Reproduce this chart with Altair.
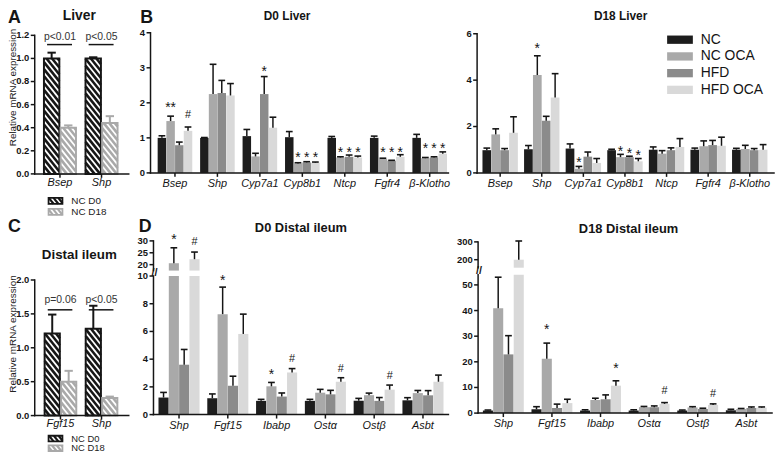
import math
import altair as alt
import pandas as pd

FONT = "Liberation Sans"
W, H = 775, 446
M = 8
INK = "#151515"


def sx(v):
    return v - M


def sy(v):
    return v - M


# ------------------------------------------------------------------ data
GROUPS = ["NC", "NC OCA", "HFD", "HFD OCA"]
GROUP_COLORS = ["#1d1d1d", "#a9a9a9", "#8b8b8b", "#d9d9d9"]

SERIES = ["NC D0", "NC D18"]
SERIES_COLORS = ["#161616", "#a9a9a9"]

A_CATS = ["Bsep", "Shp"]
A_MEAN = [[1.00, 1.00], [0.40, 0.44]]
A_ERRTOP = [[1.05, 1.01], [0.42, 0.50]]
A_PVALS = ["p<0.01", "p<0.05"]
A_BRACKET_Y = 1.12
A_PTEXT_Y = 1.185
A_YTICKS = [0, 0.2, 0.4, 0.6, 0.8, 1.0, 1.2]

C_CATS = ["Fgf15", "Shp"]
C_MEAN = [[1.21, 1.28], [0.50, 0.26]]
C_ERRTOP = [[1.49, 1.62], [0.66, 0.28]]
C_PVALS = ["p=0.06", "p<0.05"]
C_BRACKET_Y = 1.56
C_PTEXT_Y = 1.71
C_YTICKS = [0, 0.5, 1.0, 1.5, 2.0]

LIVER_CATS = ["Bsep", "Shp", "Cyp7a1", "Cyp8b1", "Ntcp", "Fgfr4", "β-Klotho"]
B0_MEAN = [
    [1.00, 1.00, 1.05, 1.02, 1.00, 1.00, 1.00],
    [1.48, 2.25, 0.47, 0.27, 0.44, 0.40, 0.42],
    [0.79, 2.28, 2.25, 0.30, 0.46, 0.35, 0.44],
    [1.20, 2.21, 1.29, 0.29, 0.44, 0.46, 0.55],
]
B0_ERRTOP = [
    [1.06, 1.01, 1.24, 1.18, 1.04, 1.05, 1.10],
    [1.62, 3.10, 0.56, 0.29, 0.46, 0.42, 0.44],
    [0.88, 2.64, 2.75, 0.32, 0.51, 0.36, 0.46],
    [1.31, 2.55, 1.59, 0.31, 0.48, 0.52, 0.60],
]
B0_MARKS = [(0, 1, "**", 1.96), (0, 3, "#", 1.67), (2, 2, "*", 3.0),
            (3, 1, "*", 0.54), (3, 2, "*", 0.54), (3, 3, "*", 0.54),
            (4, 1, "*", 0.69), (4, 2, "*", 0.69), (4, 3, "*", 0.69),
            (5, 1, "*", 0.69), (5, 2, "*", 0.69), (5, 3, "*", 0.69),
            (6, 1, "*", 0.80), (6, 2, "*", 0.80), (6, 3, "*", 0.80)]
B0_YTICKS = [0, 1, 2, 3, 4]

B18_MEAN = [
    [0.98, 1.02, 1.05, 0.98, 1.00, 1.00, 1.00],
    [1.66, 4.22, 0.18, 0.68, 0.83, 1.15, 1.03],
    [0.98, 2.25, 0.70, 0.68, 0.98, 1.20, 0.98],
    [1.73, 3.25, 0.43, 0.50, 1.12, 1.17, 1.00],
]
B18_ERRTOP = [
    [1.07, 1.18, 1.25, 1.02, 1.12, 1.07, 1.06],
    [1.90, 5.05, 0.28, 0.80, 0.96, 1.38, 1.19],
    [1.05, 2.44, 0.90, 0.72, 1.08, 1.40, 1.05],
    [2.42, 4.28, 0.62, 0.62, 1.48, 1.54, 1.22],
]
B18_MARKS = [(1, 1, "*", 5.5), (2, 1, "*", 0.6),
             (3, 1, "*", 1.05), (3, 2, "*", 0.98), (3, 3, "*", 0.88)]
B18_YTICKS = [0, 2, 4, 6]

ILEUM_CATS = ["Shp", "Fgf15", "Ibabp", "Ostα", "Ostβ", "Asbt"]
D0_MEAN = [
    [1.23, 1.18, 0.99, 0.99, 1.00, 1.03],
    [20.6, 7.25, 2.04, 1.58, 1.40, 1.55],
    [3.60, 2.08, 1.30, 1.46, 0.99, 1.39],
    [22.3, 5.82, 3.04, 2.37, 1.80, 2.37],
]
D0_ERRTOP = [
    [1.60, 1.49, 1.10, 1.10, 1.17, 1.22],
    [27.1, 9.20, 2.32, 1.82, 1.55, 1.74],
    [4.70, 2.77, 1.56, 1.75, 1.23, 1.73],
    [25.3, 7.25, 3.32, 2.66, 2.13, 2.85],
]
D0_MARKS = [(0, 1, "*", 32.0), (0, 3, "#", 29.9), (1, 1, "*", 9.9),
            (2, 1, "*", 3.13), (2, 3, "#", 4.09), (3, 3, "#", 3.37), (4, 3, "#", 2.84)]
D0_YTICKS_LOW = [0, 2, 4, 6, 8, 10]
D0_YTICKS_HIGH = [20, 25, 30]

D18_MEAN = [
    [1.0, 1.5, 1.0, 1.0, 1.0, 1.1],
    [40.9, 21.2, 5.1, 2.3, 2.2, 1.6],
    [22.9, 2.0, 5.4, 2.3, 1.6, 2.0],
    [200.0, 3.9, 10.7, 3.6, 3.2, 2.1],
]
D18_ERRTOP = [
    [1.2, 2.5, 1.3, 1.3, 1.2, 1.5],
    [53.0, 27.3, 5.8, 2.6, 2.5, 1.8],
    [30.2, 3.5, 7.1, 2.8, 1.9, 2.4],
    [305.0, 5.4, 12.6, 4.1, 3.6, 2.4],
]
D18_MARKS = [(1, 1, "*", 33.9), (2, 3, "*", 18.6), (3, 3, "#", 8.8), (4, 3, "#", 7.7)]
D18_YTICKS_LOW = [0, 10, 20, 30, 40, 50]
D18_YTICKS_HIGH = [200, 300]

FILL_SCALE = alt.Scale(domain=GROUPS, range=GROUP_COLORS)
STROKE_SCALE = alt.Scale(domain=SERIES, range=SERIES_COLORS)


# ------------------------------------------------------------------ helpers
def geo(ax, xe, c0, unit, y0, yt, ydom):
    g = dict(ax=sx(ax), xe=sx(xe), c0=sx(c0), unit=unit, y0=sy(y0), yt=sy(yt), ydom=list(ydom))
    g["xdom"] = [(g["ax"] - g["c0"]) / unit, (g["xe"] - g["c0"]) / unit]
    g["xs"] = alt.Scale(domain=g["xdom"], range=[g["ax"], g["xe"]], nice=False, zero=False)
    g["ys"] = alt.Scale(domain=g["ydom"], range=[g["y0"], g["yt"]], nice=False, zero=False)
    g["ppu"] = (g["y0"] - g["yt"]) / (ydom[1] - ydom[0])  # pixels per y unit
    return g


def to_px(g, u, v):
    lo, hi = g["ydom"]
    return g["c0"] + u * g["unit"], g["y0"] + (v - lo) * (g["yt"] - g["y0"]) / (hi - lo)


def from_px(g, X, Y):
    lo, hi = g["ydom"]
    return (X - g["c0"]) / g["unit"], lo + (Y - g["y0"]) * (hi - lo) / (g["yt"] - g["y0"])


def hatch(X0, X1, Yt, Yb, period=7.0, slope=1.25):
    segs = []
    c = math.floor((Yt - slope * X1) / period) * period
    while c < Yb - slope * X0:
        xa = max(X0, (Yt - c) / slope)
        xb = min(X1, (Yb - c) / slope)
        if xb - xa > 0.2:
            segs.append((xa, slope * xa + c, xb, slope * xb + c))
        c += period
    return segs


def QX(g, f):
    return alt.X(f, type="quantitative", scale=g["xs"], axis=None)


def QY(g, f):
    return alt.Y(f, type="quantitative", scale=g["ys"], axis=None)


def axis_layers(g, yvals, fmt, cats=None, label_dy=11.5):
    """Axis lines, ticks and labels drawn through the panel's own scales."""
    lo, hi = g["ydom"]
    xa = g["xdom"][0]
    n = len(yvals)
    ydf = pd.DataFrame(dict(v=yvals, lab=[fmt.format(v) for v in yvals],
                            xa=[xa] * n, xt=[xa - 4.0 / g["unit"]] * n))
    dom = pd.DataFrame(dict(xa=[xa], xb=[g["xdom"][1]], lo=[lo], hi=[hi]))
    out = [
        alt.Chart(dom).mark_rule(color=INK, strokeWidth=1.5, strokeCap="square").encode(
            x=QX(g, "xa"), y=QY(g, "lo"), y2="hi"),
        alt.Chart(ydf).mark_rule(color=INK, strokeWidth=1.5).encode(
            x=QX(g, "xt"), x2="xa", y=QY(g, "v")),
        alt.Chart(ydf).mark_text(font=FONT, fontSize=9.5, fontWeight="bold", color=INK,
                                 align="right", baseline="middle", dx=-5.5).encode(
            x=QX(g, "xa"), y=QY(g, "v"), text="lab:N"),
    ]
    if cats is not None:
        k = len(cats)
        cdf = pd.DataFrame(dict(c=list(range(k)), lab=cats, b=[lo] * k,
                                bt=[lo - 4.0 / g["ppu"]] * k))
        out += [
            alt.Chart(dom).mark_rule(color=INK, strokeWidth=1.5, strokeCap="square").encode(
                x=QX(g, "xa"), x2="xb", y=QY(g, "lo")),
            alt.Chart(cdf).mark_rule(color=INK, strokeWidth=1.5).encode(
                x=QX(g, "c"), y=QY(g, "b"), y2="bt"),
            alt.Chart(cdf).mark_text(font=FONT, fontSize=11, fontStyle="italic", color=INK,
                                     baseline="middle", dy=label_dy).encode(
                x=QX(g, "c"), y=QY(g, "b"), text="lab:N"),
        ]
    return out


def grouped(g, cats, mean, errtop, marks, step, bw, seg, yvals, show_x, capw_px=3.4):
    lo, hi = g["ydom"]
    off = -(step * 3 + bw) / 2
    capw = capw_px / g["unit"]
    bars, errs, stars, hashes = [], [], [], []
    for gi, grp in enumerate(GROUPS):
        for ci in range(len(cats)):
            v, e = mean[gi][ci], errtop[gi][ci]
            x0 = ci + off + gi * step
            xc = x0 + bw / 2
            if seg == "upper" and v <= lo:
                continue
            bars.append(dict(x0=x0, x1=x0 + bw, b=lo, t=min(v, hi), group=grp))
            if seg == "upper" or e <= hi:
                errs.append(dict(xc=xc, v=v, e=e, xl=xc - capw, xr=xc + capw))
    for ci, gi, lab, y in marks:
        if (seg == "upper" and y <= lo) or (seg == "lower" and y > hi):
            continue
        rec = dict(xc=ci + off + gi * step + bw / 2, y=y, lab=lab)
        (stars if "*" in lab else hashes).append(rec)

    layers = [alt.Chart(pd.DataFrame(bars)).mark_rect().encode(
        x=QX(g, "x0"), x2="x1", y=QY(g, "b"), y2="t",
        fill=alt.Fill("group:N", scale=FILL_SCALE, legend=None))]
    if errs:
        E = pd.DataFrame(errs)
        layers.append(alt.Chart(E).mark_rule(color=INK, strokeWidth=1.5).encode(
            x=QX(g, "xc"), y=QY(g, "v"), y2="e"))
        layers.append(alt.Chart(E).mark_rule(color=INK, strokeWidth=1.6).encode(
            x=QX(g, "xl"), x2="xr", y=QY(g, "e")))
    if stars:
        layers.append(alt.Chart(pd.DataFrame(stars)).mark_text(
            font=FONT, fontSize=14, color=INK, baseline="alphabetic", dy=8).encode(
            x=QX(g, "xc"), y=QY(g, "y"), text="lab:N"))
    if hashes:
        layers.append(alt.Chart(pd.DataFrame(hashes)).mark_text(
            font=FONT, fontSize=11, color=INK, baseline="alphabetic", dy=4).encode(
            x=QX(g, "xc"), y=QY(g, "y"), text="lab:N"))
    layers += axis_layers(g, yvals, "{:d}", cats if show_x else None)
    return alt.layer(*layers)


def hatched(g, cats, mean, errtop, pvals, bracket_y, ptext_y, yvals):
    capw = 4.2 / g["unit"]
    bars, lines, errs = [], [], []
    for si, ser in enumerate(SERIES):
        for ci in range(len(cats)):
            v, e = mean[si][ci], errtop[si][ci]
            x0 = ci + (-0.385 if si == 0 else 0.015)
            x1 = x0 + 0.37
            xc = (x0 + x1) / 2
            bars.append(dict(x0=x0, x1=x1, b=0.0, t=v, series=ser))
            errs.append(dict(xc=xc, v=v, e=e, xl=xc - capw, xr=xc + capw, series=ser))
            X0, Yb = to_px(g, x0, 0.0)
            X1, Yt = to_px(g, x1, v)
            for (ax_, ay_, bx_, by_) in hatch(X0, X1, Yt, Yb):
                u0, w0 = from_px(g, ax_, ay_)
                u1, w1 = from_px(g, bx_, by_)
                lines.append(dict(u0=u0, u1=u1, w0=w0, w1=w1, series=ser))
    B = pd.DataFrame(bars)
    L = pd.DataFrame(lines)
    E = pd.DataFrame(errs)
    k = len(cats)
    P = pd.DataFrame(dict(xc=list(range(k)), txt=pvals,
                          bl=[c - 0.31 for c in range(k)], br=[c + 0.29 for c in range(k)],
                          by=[bracket_y] * k, ty=[ptext_y] * k))
    stroke = alt.Stroke("series:N", scale=STROKE_SCALE, legend=None)
    layers = [
        alt.Chart(B).mark_rect(color="white").encode(
            x=QX(g, "x0"), x2="x1", y=QY(g, "b"), y2="t"),
        alt.Chart(L).mark_rule(strokeWidth=2.6, strokeCap="butt").encode(
            x=QX(g, "u0"), x2="u1", y=QY(g, "w0"), y2="w1", stroke=stroke),
        alt.Chart(B).mark_rect(filled=False, strokeWidth=2.0).encode(
            x=QX(g, "x0"), x2="x1", y=QY(g, "b"), y2="t", stroke=stroke),
        alt.Chart(E).mark_rule(strokeWidth=2.0).encode(
            x=QX(g, "xc"), y=QY(g, "v"), y2="e", stroke=stroke),
        alt.Chart(E).mark_rule(strokeWidth=2.0).encode(
            x=QX(g, "xl"), x2="xr", y=QY(g, "e"), stroke=stroke),
        alt.Chart(P).mark_rule(color=INK, strokeWidth=1.5).encode(
            x=QX(g, "bl"), x2="br", y=QY(g, "by")),
        alt.Chart(P).mark_text(font=FONT, fontSize=10.5, color="#333333", baseline="middle").encode(
            x=QX(g, "xc"), y=QY(g, "ty"), text="txt:N"),
    ]
    layers += axis_layers(g, yvals, "{:.1f}", cats, label_dy=9)
    return alt.layer(*layers)


def pxX(f):
    return alt.X(f, type="quantitative", scale=None, axis=None)


def pxY(f):
    return alt.Y(f, type="quantitative", scale=None, axis=None)


def hatch_legend(x0, x1, rows, half, fs):
    recs, lines = [], []
    for ser, yc in zip(SERIES, rows):
        X0, X1, Yt, Yb = sx(x0), sx(x1), sy(yc - half), sy(yc + half)
        recs.append(dict(X0=X0, X1=X1, Yt=Yt, Yb=Yb, series=ser, tx=sx(72), ty=sy(yc)))
        for (a, b, c, d) in hatch(X0, X1, Yt, Yb, period=6.0, slope=1.25):
            lines.append(dict(a=a, b=b, c=c, d=d, series=ser))
    R = pd.DataFrame(recs)
    L = pd.DataFrame(lines)
    stroke = alt.Stroke("series:N", scale=STROKE_SCALE, legend=None)
    return [
        alt.Chart(R).mark_rect(color="white").encode(x=pxX("X0"), x2="X1", y=pxY("Yt"), y2="Yb"),
        alt.Chart(L).mark_rule(strokeWidth=2.2).encode(x=pxX("a"), x2="c", y=pxY("b"), y2="d",
                                                       stroke=stroke),
        alt.Chart(R).mark_rect(filled=False, strokeWidth=1.8).encode(
            x=pxX("X0"), x2="X1", y=pxY("Yt"), y2="Yb", stroke=stroke),
        alt.Chart(R).mark_text(font=FONT, fontSize=fs, color="#222222", align="left",
                               baseline="middle").encode(x=pxX("tx"), y=pxY("ty"), text="series:N"),
    ]


# ------------------------------------------------------------------ panels
gA = geo(35, 130, 60.5, 42.0, 173.3, 33.3, [0, 1.2])
gC = geo(35, 130, 61.0, 41.5, 417.5, 280.5, [0, 2.0])
gB0 = geo(152, 453, 176.7, 42.9, 172.3, 30.7, [0, 4])
gB18 = geo(482, 782, 505.3, 42.03, 172.3, 31.7, [0, 6])
gD0lo = geo(155, 453, 180.8, 49.3, 416.5, 276.5, [0, 10])
gD0hi = geo(155, 453, 180.8, 49.3, 271.0, 241.0, [17.5, 30])
gD18lo = geo(483, 780, 508.5, 49.1, 415.0, 275.1, [0, 54])
gD18hi = geo(483, 780, 508.5, 49.1, 268.1, 242.0, [155, 300])

panels = [
    hatched(gA, A_CATS, A_MEAN, A_ERRTOP, A_PVALS, A_BRACKET_Y, A_PTEXT_Y, A_YTICKS),
    hatched(gC, C_CATS, C_MEAN, C_ERRTOP, C_PVALS, C_BRACKET_Y, C_PTEXT_Y, C_YTICKS),
    grouped(gB0, LIVER_CATS, B0_MEAN, B0_ERRTOP, B0_MARKS, 0.205, 0.2, "full", B0_YTICKS, True),
    grouped(gB18, LIVER_CATS, B18_MEAN, B18_ERRTOP, B18_MARKS, 0.214, 0.209, "full", B18_YTICKS, True),
    grouped(gD0lo, ILEUM_CATS, D0_MEAN, D0_ERRTOP, D0_MARKS, 0.2115, 0.207, "lower",
            D0_YTICKS_LOW, True),
    grouped(gD0hi, ILEUM_CATS, D0_MEAN, D0_ERRTOP, D0_MARKS, 0.2115, 0.207, "upper",
            D0_YTICKS_HIGH, False),
    grouped(gD18lo, ILEUM_CATS, D18_MEAN, D18_ERRTOP, D18_MARKS, 0.2115, 0.207, "lower",
            D18_YTICKS_LOW, True),
    grouped(gD18hi, ILEUM_CATS, D18_MEAN, D18_ERRTOP, D18_MARKS, 0.2115, 0.207, "upper",
            D18_YTICKS_HIGH, False),
]

# ------------------------------------------------------------------ annotations
bold_text = pd.DataFrame([
    dict(x=sx(14.5), y=sy(16), text="A", fs=18),
    dict(x=sx(148), y=sy(16), text="B", fs=18),
    dict(x=sx(14.5), y=sy(227), text="C", fs=18),
    dict(x=sx(146.5), y=sy(227), text="D", fs=18),
    dict(x=sx(80), y=sy(14), text="Liver", fs=14),
    dict(x=sx(290), y=sy(13.5), text="D0 Liver", fs=12),
    dict(x=sx(627), y=sy(13.5), text="D18 Liver", fs=12),
    dict(x=sx(80), y=sy(255), text="Distal ileum", fs=13.5),
    dict(x=sx(304), y=sy(228.5), text="D0 Distal ileum", fs=13),
    dict(x=sx(635), y=sy(229), text="D18 Distal ileum", fs=13),
])
ytitles = pd.DataFrame([
    dict(x=sx(13.5), y=sy(86), text="Relative mRNA expression"),
    dict(x=sx(13.5), y=sy(335), text="Relative mRNA expression"),
])
breaks = pd.DataFrame([
    dict(x=sx(156), y=sy(273), text="//"),
    dict(x=sx(484), y=sy(271), text="//"),
])
leg_rows = [sy(37.7 + i * 16.9) for i in range(len(GROUPS))]
bleg = pd.DataFrame(dict(group=GROUPS, x0=[sx(674)] * 4, x1=[sx(700)] * 4,
                         yt=[r - 4.2 for r in leg_rows], yb=[r + 4.2 for r in leg_rows],
                         tx=[sx(708)] * 4, ty=leg_rows))

annotations = [
    alt.Chart(bold_text).mark_text(font=FONT, fontWeight="bold", color=INK, baseline="middle").encode(
        x=pxX("x"), y=pxY("y"), text="text:N", size=alt.Size("fs:Q", scale=None)),
    alt.Chart(ytitles).mark_text(font=FONT, fontSize=10, color="#222222", angle=270,
                                 baseline="middle").encode(x=pxX("x"), y=pxY("y"), text="text:N"),
    alt.Chart(breaks).mark_text(font=FONT, fontSize=11, fontWeight="bold", color=INK,
                                baseline="middle").encode(x=pxX("x"), y=pxY("y"), text="text:N"),
    alt.Chart(bleg).mark_rect().encode(x=pxX("x0"), x2="x1", y=pxY("yt"), y2="yb",
                                       fill=alt.Fill("group:N", scale=FILL_SCALE, legend=None)),
    alt.Chart(bleg).mark_text(font=FONT, fontSize=14, color=INK, align="left",
                              baseline="middle").encode(x=pxX("tx"), y=pxY("ty"), text="group:N"),
]
annotations += hatch_legend(49, 63, [200.5, 211.7], 3.0, 10)
annotations += hatch_legend(49, 63, [440.7, 450.5], 2.8, 9.5)

chart = alt.layer(*panels, *annotations).resolve_scale(
    x="independent", y="independent"
).properties(
    width=W, height=H, padding=0, autosize=alt.AutoSizeParams(type="none")
).configure_view(stroke=None)

chart.save("out.html", embed_options={"renderer": "svg", "actions": False})
